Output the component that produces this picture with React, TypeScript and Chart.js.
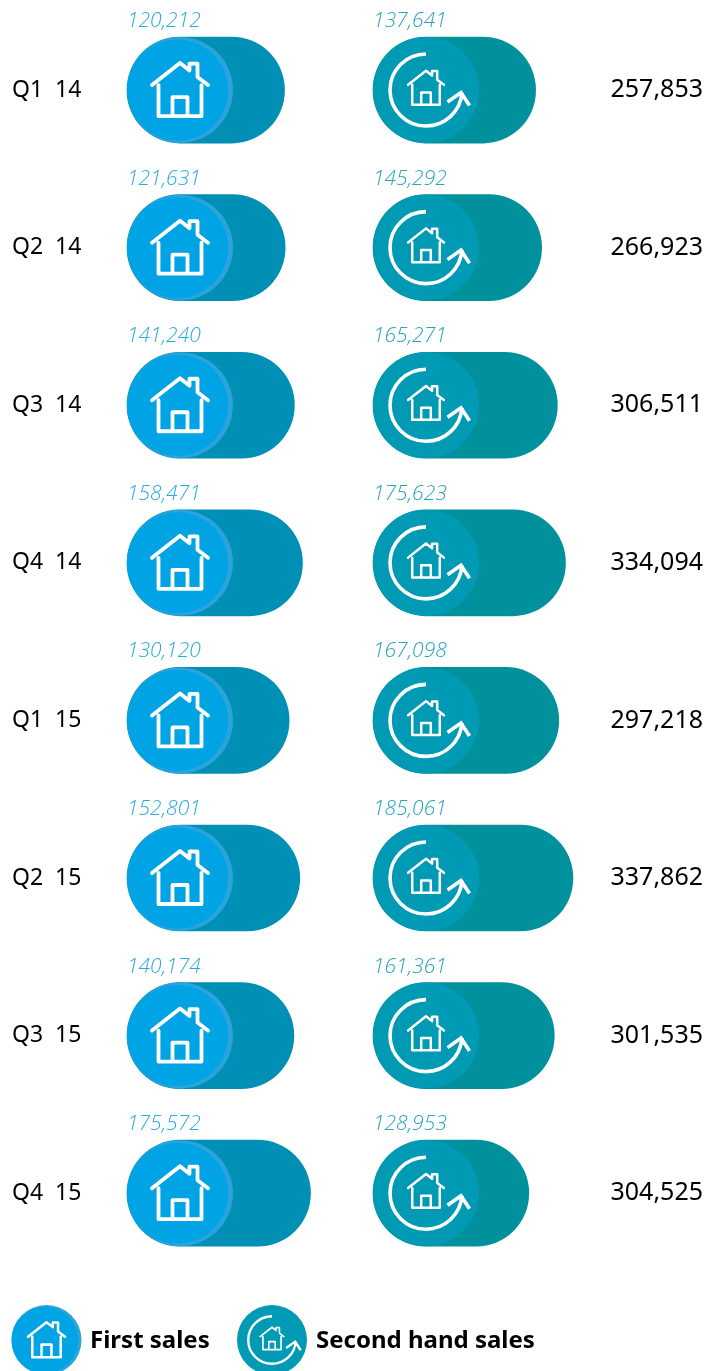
import React, { useEffect, useRef } from "react";
import { Chart, registerables } from "chart.js";

Chart.register(...registerables);

const quarters = ["Q1  14", "Q2  14", "Q3  14", "Q4  14", "Q1  15", "Q2  15", "Q3  15", "Q4  15"];
const firstSales = [120212, 121631, 141240, 158471, 130120, 152801, 140174, 175572];
const secondHandSales = [137641, 145292, 165271, 175623, 167098, 185061, 161361, 128953];
const totals = ["257,853", "266,923", "306,511", "334,094", "297,218", "337,862", "301,535", "304,525"];
const seriesNames = ["First sales", "Second hand sales"];

const FONT = "'Noto Sans'";
const WHITE = "#ffffff";

function drawHouse(ctx: CanvasRenderingContext2D, cx: number, cy: number, s: number, lw: number) {
  const X = (v: number) => cx + v * s;
  const Y = (v: number) => cy + v * s;
  ctx.save();
  ctx.strokeStyle = WHITE;
  ctx.lineWidth = lw;
  ctx.lineJoin = "round";
  ctx.lineCap = "round";
  ctx.beginPath();
  ctx.moveTo(X(-28), Y(-5));
  ctx.lineTo(X(0), Y(-27));
  ctx.lineTo(X(9.5), Y(-19.5));
  ctx.lineTo(X(9.5), Y(-26.5));
  ctx.lineTo(X(17.5), Y(-26.5));
  ctx.lineTo(X(17.5), Y(-13));
  ctx.lineTo(X(28), Y(-5));
  ctx.moveTo(X(-21.5), Y(-5));
  ctx.lineTo(X(-21.5), Y(26));
  ctx.lineTo(X(21.5), Y(26));
  ctx.lineTo(X(21.5), Y(-5));
  ctx.moveTo(X(-7.5), Y(26));
  ctx.lineTo(X(-7.5), Y(7));
  ctx.lineTo(X(7.5), Y(7));
  ctx.lineTo(X(7.5), Y(26));
  ctx.stroke();
  ctx.restore();
}

function drawFirstIcon(ctx: CanvasRenderingContext2D, cx: number, cy: number, r: number) {
  const k = r / 53;
  ctx.save();
  ctx.fillStyle = "#2ba3dd";
  ctx.beginPath();
  ctx.arc(cx, cy, r, 0, Math.PI * 2);
  ctx.fill();
  ctx.fillStyle = "#00a3e3";
  ctx.beginPath();
  ctx.arc(cx - 2.5 * k, cy, r - 2.5 * k, 0, Math.PI * 2);
  ctx.fill();
  ctx.restore();
  drawHouse(ctx, cx, cy, k, Math.max(2.4, 3.8 * k));
}

function drawSecondIcon(ctx: CanvasRenderingContext2D, cx: number, cy: number, r: number) {
  const k = r / 53;
  ctx.save();
  ctx.fillStyle = "#009ab5";
  ctx.beginPath();
  ctx.arc(cx, cy, r, 0, Math.PI * 2);
  ctx.fill();
  drawHouse(ctx, cx, cy - 2 * k, 0.64 * k, Math.max(1.6, 2.5 * k));
  ctx.strokeStyle = WHITE;
  ctx.lineWidth = 3.6 * k;
  ctx.lineCap = "butt";
  ctx.beginPath();
  ctx.arc(cx, cy, 36 * k, -Math.PI / 2, 0.07, true);
  ctx.stroke();
  ctx.lineJoin = "miter";
  ctx.beginPath();
  ctx.moveTo(cx + 21.5 * k, cy + 12 * k);
  ctx.lineTo(cx + 35 * k, cy + 2.5 * k);
  ctx.lineTo(cx + 43.5 * k, cy + 15.5 * k);
  ctx.stroke();
  ctx.restore();
}

const iconsPlugin = {
  id: "iconsAndValues",
  afterDatasetsDraw(chart: any) {
    const ctx: CanvasRenderingContext2D = chart.ctx;
    ctx.save();
    ctx.textBaseline = "alphabetic";
    ctx.textAlign = "left";
    ctx.font = `italic 300 21px 'Open Sans'`;
    chart.data.datasets.forEach((ds: any, di: number) => {
      chart.getDatasetMeta(di).data.forEach((bar: any, i: number) => {
        const left = bar.base;
        const r = 53;
        if (di === 0) drawFirstIcon(ctx, left + r, bar.y, r);
        else drawSecondIcon(ctx, left + r, bar.y, r);
        ctx.fillStyle = ds.labelColor;
        ctx.fillText(ds.data[i].toLocaleString("en-US"), left, bar.y - 63);
      });
    });
    const ly = 1340;
    drawFirstIcon(ctx, 46.5, ly, 35);
    drawSecondIcon(ctx, 272, ly, 35);
    ctx.fillStyle = "#000000";
    ctx.font = `700 24px ${FONT}`;
    ctx.fillText(seriesNames[0], 90, ly + 8);
    ctx.fillText(seriesNames[1], 316, ly + 8);
    ctx.restore();
  },
};

export default function App() {
  const ref = useRef<HTMLCanvasElement>(null);
  useEffect(() => {
    const chart = new Chart(ref.current as HTMLCanvasElement, {
      type: "bar",
      plugins: [iconsPlugin],
      data: {
        labels: quarters,
        datasets: [
          {
            label: seriesNames[0],
            data: firstSales,
            xAxisID: "x1",
            yAxisID: "y",
            base: -214894,
            backgroundColor: "#008fb5",
            labelColor: "#29abdf",
          },
          {
            label: seriesNames[1],
            data: secondHandSales,
            xAxisID: "x2",
            yAxisID: "y",
            base: -68996,
            backgroundColor: "#00919d",
            labelColor: "#2aa3bd",
          },
        ] as any,
      },
      options: {
        indexAxis: "y",
        responsive: false,
        animation: false,
        layout: { padding: { left: 12, right: 12, top: 11, bottom: 99 } },
        datasets: {
          bar: {
            grouped: false,
            barThickness: 106,
            borderRadius: 53,
            borderSkipped: false,
            borderWidth: 0,
          },
        },
        plugins: { legend: { display: false }, tooltip: { enabled: false } },
        scales: {
          x1: { type: "linear", axis: "x", display: false, min: -293617, max: 797872 },
          x2: { type: "linear", axis: "x", display: false, min: -428590, max: 223253 },
          y: {
            type: "category",
            position: "left",
            offset: true,
            grid: { display: false },
            border: { display: false },
            afterFit: (s: any) => { s.width = 78; },
            ticks: {
              autoSkip: false,
              crossAlign: "far",
              padding: 0,
              color: "#000000",
              font: { family: "Noto Sans", size: 23, lineHeight: 0.9 },
            },
          },
          yTotals: {
            type: "category",
            axis: "y",
            position: "right",
            offset: true,
            labels: totals,
            grid: { display: false },
            border: { display: false },
            afterFit: (s: any) => { s.width = 100; },
            ticks: {
              autoSkip: false,
              crossAlign: "far",
              padding: 0,
              color: "#000000",
              font: { family: "Noto Sans", size: 25, lineHeight: 0.9 },
            },
          },
        },
      } as any,
    });
    return () => chart.destroy();
  }, []);
  return (
    <div style={{ position: "absolute", left: 0, top: 0, width: 715, height: 1371 }}>
      <canvas ref={ref} width={715} height={1371} style={{ display: "block" }} />
    </div>
  );
}
